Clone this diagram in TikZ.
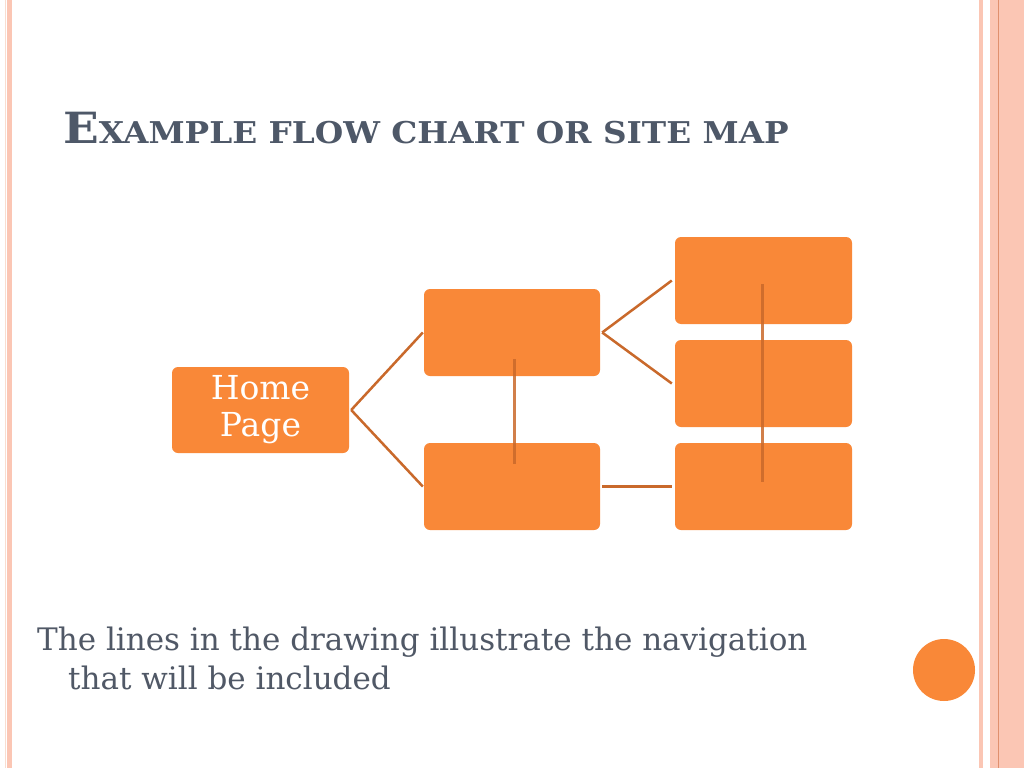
\documentclass[tikz,border=0pt]{standalone}
\usepackage{fontspec}
\setmainfont{DejaVu Serif}
\definecolor{boxorange}{HTML}{F98838}
\definecolor{lineorange}{HTML}{C9692B}
\definecolor{titlegray}{HTML}{4E5868}
\definecolor{textgray}{HTML}{505866}
\definecolor{stripe}{HTML}{FBC6B4}
\definecolor{stripepale}{HTML}{F9DDD0}
\definecolor{stripedark}{HTML}{E0906E}
\newcommand{\bigsc}[1]{{\fontsize{43}{46}\selectfont #1}}
\newcommand{\smsc}[1]{{\fontsize{30}{34}\selectfont #1}}
\begin{document}
\begin{tikzpicture}[x=1pt,y=-1pt,
  pagebox/.style={draw=none,fill=boxorange,rounded corners=6pt,inner sep=0pt},
  conn/.style={draw=lineorange,line width=2.5pt},
  vconn/.style={draw=lineorange,line width=3pt,opacity=0.85},
  bodytext/.style={anchor=base west,inner sep=0pt,text=textgray,font=\fontsize{31}{38}\selectfont}]
\useasboundingbox (0,0) rectangle (1024,768);
\fill[white] (0,0) rectangle (1024,768);
% side stripes
\fill[stripepale] (4.5,0) rectangle (5.5,768);
\fill[stripe] (7,0) rectangle (12,768);
\fill[stripe] (979,0) rectangle (983,768);
\fill[stripe] (990,0) rectangle (1024,768);
\fill[stripedark] (998,0) rectangle (999,768);
% title
\node[anchor=base west,inner sep=0pt,text=titlegray,font=\bfseries] (title) at (63,143)
  {\scalebox{1.09}[1]{\bigsc{E}\smsc{XAMPLE FLOW CHART OR SITE MAP}}};
% boxes
\node[pagebox,minimum width=177pt,minimum height=86pt,text=white,align=center,
  font=\fontsize{33}{37}\selectfont] (home) at (260.5,410) {Home\\Page};
\node[pagebox,minimum width=176pt,minimum height=87pt] (m1) at (512,332.5) {};
\node[pagebox,minimum width=176pt,minimum height=87pt] (m2) at (512,486.5) {};
\node[pagebox,minimum width=177pt,minimum height=87pt] (r1) at (763.5,280.5) {};
\node[pagebox,minimum width=177pt,minimum height=87pt] (r2) at (763.5,383.5) {};
\node[pagebox,minimum width=177pt,minimum height=87pt] (r3) at (763.5,486.5) {};
% connectors
\draw[conn] ([xshift=2pt]home.east) -- ([xshift=-1pt]m1.west);
\draw[conn] ([xshift=2pt]home.east) -- ([xshift=-1pt]m2.west);
\draw[conn] ([xshift=2pt]m1.east) -- ([xshift=-3pt]r1.west);
\draw[conn] ([xshift=2pt]m1.east) -- ([xshift=-3pt]r2.west);
\draw[conn] ([xshift=2pt]m2.east) -- ([xshift=-3pt]r3.west);
\coordinate (v1a) at (514,359);
\coordinate (v1b) at (514,464);
\coordinate (v2a) at (762,284);
\coordinate (v2b) at (762,482);
\draw[vconn] (v1a) -- (v1b);
\draw[vconn] (v2a) -- (v2b);
% body text
\node[bodytext] (line1) at (37,650)
  {The lines in the drawing illustrate the navigation};
\node[bodytext] (line2) at (68,689)
  {that will be included};
% circle
\fill[boxorange] (944,670) circle (31);
\end{tikzpicture}
\end{document}
